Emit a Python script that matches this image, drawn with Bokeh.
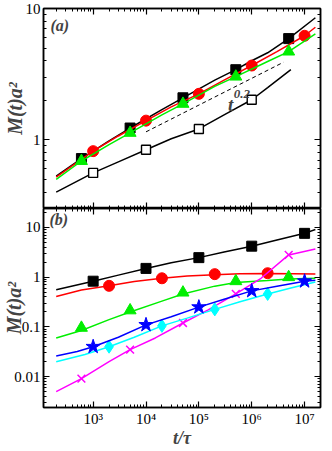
from bokeh.plotting import figure
from bokeh.layouts import column
from bokeh.models import LogAxis, Label, CustomJSTickFormatter, LogTicker, FixedTicker, LogScale
from bokeh.embed import file_html
from bokeh.resources import INLINE

# ---------------- data: panel (a) ----------------
a_black_t = [200, 600, 2000, 5000, 2e4, 5e4, 2e5, 5e5, 1e6, 2e6, 5e6, 1.6e7]
a_black_y = [0.53, 0.72, 0.98, 1.23, 1.70, 2.09, 2.85, 3.42, 4.0, 4.6, 5.9, 8.5]
a_black_mt = [600, 5000, 5e4, 5e5, 5e6]
a_black_my = [0.72, 1.23, 2.09, 3.42, 5.9]

a_red_t = [200, 1000, 3000, 1e4, 3e4, 1e5, 3e5, 1e6, 3e6, 1e7, 1.6e7]
a_red_y = [0.52, 0.82, 1.07, 1.40, 1.78, 2.24, 2.85, 3.68, 4.7, 6.2, 7.2]
a_red_mt = [1000, 1e4, 1e5, 1e6, 1e7]
a_red_my = [0.82, 1.40, 2.24, 3.68, 6.2]

a_green_t = [200, 600, 2000, 5000, 2e4, 5e4, 2e5, 5e5, 2e6, 5e6, 1.6e7]
a_green_y = [0.50, 0.69, 0.92, 1.13, 1.55, 1.88, 2.55, 3.03, 3.95, 4.7, 6.4]
a_green_mt = [600, 5000, 5e4, 5e5, 5e6]
a_green_my = [0.69, 1.13, 1.88, 3.03, 4.7]

a_open_t = [200, 1000, 3000, 1e4, 3e4, 1e5, 3e5, 1e6, 2e6, 5.5e6]
a_open_y = [0.40, 0.56, 0.68, 0.84, 1.02, 1.21, 1.55, 2.02, 2.5, 3.42]
a_open_mt = [1000, 1e4, 1e5, 1e6]
a_open_my = [0.56, 0.84, 1.21, 2.02]

a_guide_t = [1e4, 4e6]
a_guide_y = [1.15, 3.9]

a_y_major = [1, 10]
a_y_minor = [0.3, 0.4, 0.5, 0.6, 0.7, 0.8, 0.9, 2, 3, 4, 5, 6, 7, 8, 9]

# ---------------- data: panel (b) ----------------
b_black_t = [200, 1000, 3000, 1e4, 3e4, 1e5, 3e5, 1e6, 3e6, 1e7, 1.6e7]
b_black_y = [0.56, 0.83, 1.10, 1.50, 1.95, 2.47, 3.2, 4.2, 5.6, 7.6, 9.1]
b_black_mt = [1000, 1e4, 1e5, 1e6, 1e7]
b_black_my = [0.83, 1.50, 2.47, 4.2, 7.6]

b_red_t = [200, 600, 2000, 6000, 2e4, 6e4, 2e5, 6e5, 2e6, 6e6, 1.6e7]
b_red_y = [0.41, 0.55, 0.67, 0.82, 0.95, 1.05, 1.12, 1.17, 1.18, 1.17, 1.16]
b_red_mt = [2000, 2e4, 2e5, 2e6]
b_red_my = [0.67, 0.95, 1.15, 1.2]

b_green_t = [200, 600, 2000, 5000, 2e4, 5e4, 2e5, 5e5, 2e6, 5e6, 1.6e7]
b_green_y = [0.06, 0.085, 0.14, 0.20, 0.33, 0.46, 0.66, 0.78, 0.86, 0.92, 0.95]
b_green_mt = [600, 5000, 5e4, 5e5, 5e6]
b_green_my = [0.096, 0.215, 0.49, 0.83, 1.0]

b_blue_t = [200, 500, 1000, 3000, 1e4, 3e4, 1e5, 3e5, 1e6, 3e6, 1e7, 1.6e7]
b_blue_y = [0.026, 0.032, 0.040, 0.062, 0.11, 0.16, 0.25, 0.36, 0.53, 0.66, 0.83, 0.87]
b_blue_mt = [1000, 1e4, 1e5, 1e6, 1e7]
b_blue_my = [0.040, 0.11, 0.25, 0.53, 0.83]

b_cyan_t = [200, 700, 2000, 6000, 2e4, 6e4, 2e5, 6e5, 2e6, 6e6, 1.6e7]
b_cyan_y = [0.020, 0.028, 0.040, 0.062, 0.105, 0.15, 0.225, 0.32, 0.46, 0.62, 0.80]
b_cyan_mt = [2000, 2e4, 2e5, 2e6]
b_cyan_my = [0.040, 0.105, 0.225, 0.46]

b_mag_t = [200, 600, 2000, 5000, 1.5e4, 5e4, 1.5e5, 5e5, 1.5e6, 5e6, 1.6e7]
b_mag_y = [0.005, 0.0091, 0.020, 0.035, 0.06, 0.12, 0.22, 0.46, 0.95, 2.8, 3.7]
b_mag_mt = [600, 5000, 5e4, 5e5, 5e6]
b_mag_my = [0.0091, 0.035, 0.12, 0.46, 2.8]

x_range = (115, 2e7)
a_y_range = (0.3, 10)
b_y_range = (0.0024, 24)

guide_label_t = 4.0e5
guide_label_y = 1.85

SERIF = "Liberation Serif"

x_fmt = CustomJSTickFormatter(code="""
const sup = {'0':'\\u2070','1':'\\u00b9','2':'\\u00b2','3':'\\u00b3','4':'\\u2074','5':'\\u2075','6':'\\u2076','7':'\\u2077','8':'\\u2078','9':'\\u2079','-':'\\u207b'};
const e = Math.round(Math.log10(tick)).toString();
let s = '10';
for (const c of e) s += sup[c];
return s;
""")
y_fmt = CustomJSTickFormatter(code="""
if (tick >= 1) return tick.toFixed(0);
const d = Math.round(-Math.log10(tick));
return tick.toFixed(d);
""")


def style_axis(ax, labels=True):
    ax.axis_line_width = 1.5
    ax.axis_line_color = "black"
    ax.major_tick_in = 6
    ax.major_tick_out = 0
    ax.minor_tick_in = 3
    ax.minor_tick_out = 0
    ax.major_tick_line_width = 1.2
    ax.minor_tick_line_width = 1
    ax.major_tick_line_color = "black"
    ax.minor_tick_line_color = "black"
    if labels:
        ax.major_label_text_font = SERIF
        ax.major_label_text_font_size = "15px"
        ax.major_label_text_color = "black"
        ax.major_label_standoff = 3
    else:
        ax.major_label_text_font_size = "1px"
        ax.major_label_text_alpha = 0
        ax.major_label_standoff = 0


def make_fig(height, yr, yticker_fn, top_border, bottom_border, label_standoff, xlabels):
    p = figure(width=322, height=height, x_axis_type=None, y_axis_type=None,
               x_range=x_range, y_range=yr, output_backend="svg",
               toolbar_location=None, min_border_left=38, min_border_right=2,
               min_border_top=top_border, min_border_bottom=bottom_border)
    p.x_scale = LogScale()
    p.y_scale = LogScale()
    p.grid.visible = False
    p.outline_line_color = "black"
    p.outline_line_width = 1.5
    p.background_fill_color = "white"
    p.border_fill_color = "white"

    ax_l = LogAxis(ticker=yticker_fn(), formatter=y_fmt)
    style_axis(ax_l)
    ax_l.axis_label = "M(t)a\u00b2"
    ax_l.axis_label_text_font = SERIF
    ax_l.axis_label_text_font_style = "bold italic"
    ax_l.axis_label_text_font_size = "20px"
    ax_l.axis_label_standoff = label_standoff
    p.add_layout(ax_l, "left")

    ax_r = LogAxis(ticker=yticker_fn())
    style_axis(ax_r, labels=False)
    p.add_layout(ax_r, "right")

    ax_t = LogAxis(ticker=LogTicker(num_minor_ticks=10))
    style_axis(ax_t, labels=False)
    p.add_layout(ax_t, "above")

    ax_b = LogAxis(ticker=LogTicker(num_minor_ticks=10), formatter=x_fmt)
    style_axis(ax_b, labels=xlabels)
    if xlabels:
        ax_b.major_label_standoff = 3
        ax_b.axis_label = "t/\u03c4"
        ax_b.axis_label_text_font = SERIF
        ax_b.axis_label_text_font_style = "bold italic"
        ax_b.axis_label_text_font_size = "18px"
        ax_b.axis_label_standoff = -2
    p.add_layout(ax_b, "below")
    return p


# ---------------- panel (a) ----------------
pa = make_fig(208, a_y_range, lambda: FixedTicker(ticks=a_y_major, minor_ticks=a_y_minor),
              8, 0, -3, False)

pa.line(a_guide_t, a_guide_y, line_color="black", line_width=1, line_dash="4 3")
pa.line(a_open_t, a_open_y, line_color="black", line_width=1.5)
pa.scatter(a_open_mt, a_open_my, marker="square", size=9, fill_color="white",
           line_color="black", line_width=1.4)
pa.line(a_black_t, a_black_y, line_color="black", line_width=1.5)
pa.scatter(a_black_mt, a_black_my, marker="square", size=10, color="black")
pa.line(a_red_t, a_red_y, line_color="#ff0000", line_width=1.5)
pa.scatter(a_red_mt, a_red_my, marker="circle", size=11, color="#ff0000")
pa.line(a_green_t, a_green_y, line_color="#00ee00", line_width=1.5)
pa.scatter(a_green_mt, a_green_my, marker="triangle", size=12, color="#00ee00")

pa.add_layout(Label(x=guide_label_t, y=guide_label_y, text="t", text_font=SERIF,
                    text_font_style="bold italic", text_font_size="19px",
                    text_align="center", text_baseline="middle"))
pa.add_layout(Label(x=guide_label_t, y=guide_label_y, text="0.2", text_font=SERIF,
                    text_font_style="bold italic", text_font_size="13px",
                    text_align="left", text_baseline="middle", x_offset=3, y_offset=11))
pa.add_layout(Label(x=7, y=183, x_units="screen", y_units="screen", text="(a)",
                    text_font=SERIF, text_font_style="bold italic", text_font_size="16px",
                    text_baseline="middle"))

# ---------------- panel (b) ----------------
pb = make_fig(242, b_y_range, lambda: LogTicker(num_minor_ticks=10), 0, 40, -14, True)

pb.line(b_black_t, b_black_y, line_color="black", line_width=1.5)
pb.scatter(b_black_mt, b_black_my, marker="square", size=10, color="black")
pb.line(b_red_t, b_red_y, line_color="#ff0000", line_width=1.5)
pb.scatter(b_red_mt, b_red_my, marker="circle", size=11, color="#ff0000")
pb.line(b_green_t, b_green_y, line_color="#00ee00", line_width=1.5)
pb.scatter(b_green_mt, b_green_my, marker="triangle", size=12, color="#00ee00")
pb.line(b_mag_t, b_mag_y, line_color="#ff00ff", line_width=1.5)
pb.scatter(b_mag_mt, b_mag_my, marker="x", size=11, line_color="#ff00ff", line_width=1.5)
pb.line(b_cyan_t, b_cyan_y, line_color="#00ffff", line_width=1.5)
pb.scatter(b_cyan_mt, b_cyan_my, marker="diamond", size=13, color="#00ffff")
pb.line(b_blue_t, b_blue_y, line_color="#0000ff", line_width=1.5)
pb.scatter(b_blue_mt, b_blue_my, marker="star", size=15, color="#0000ff")

pb.add_layout(Label(x=6, y=188, x_units="screen", y_units="screen", text="(b)",
                    text_font=SERIF, text_font_style="bold italic", text_font_size="16px",
                    text_baseline="middle"))

layout = column(pa, pb, spacing=0)
open("out.html", "w").write(file_html(layout, INLINE))
